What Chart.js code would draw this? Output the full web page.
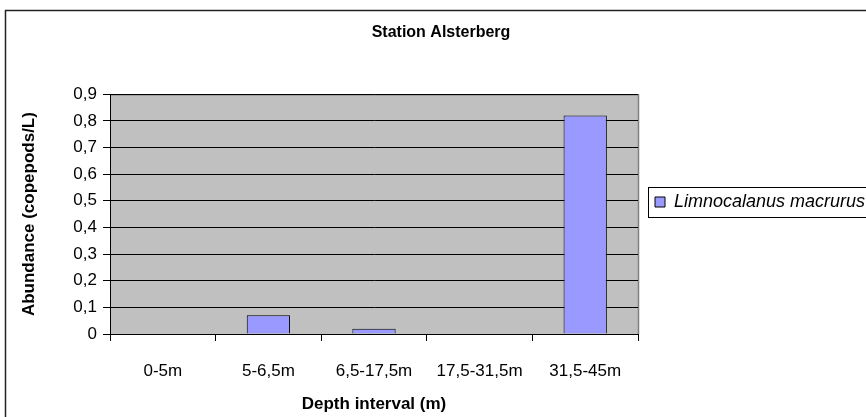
<!DOCTYPE html>
<html>
<head>
<meta charset="utf-8">
<script src="https://cdn.jsdelivr.net/npm/chart.js@4.4.1/dist/chart.umd.min.js"></script>
<style>
  html, body { margin: 0; padding: 0; background: #fff; overflow: hidden; }
  #wrap { position: relative; width: 882px; height: 430px; }
</style>
</head>
<body>
<div id="wrap"><canvas id="myChart"></canvas></div>
<script>
const categories = ['0-5m', '5-6,5m', '6,5-17,5m', '17,5-31,5m', '31,5-45m'];
const abundance = [0, 0.07, 0.02, 0, 0.82];
const seriesName = 'Limnocalanus macrurus';
const yTicks = [0, 0.1, 0.2, 0.3, 0.4, 0.5, 0.6, 0.7, 0.8, 0.9];

const FONT = "'Liberation Sans', Arial, sans-serif";
const LEGEND_MID = 202;
const LEGEND_WIDTH = 244;

// grey plot area, outer chart frame, frame round the legend
const excelLook = {
  id: 'excelLook',
  afterInit(chart) {
    // side boxes are capped at a quarter of the width; the legend needs more
    const lg = chart.legend;
    const fit = lg.fit.bind(lg);
    lg.fit = function () {
      fit();
      this.width = LEGEND_WIDTH;
    };
  },
  afterUpdate(chart) {
    // Excel puts the legend a little above the middle of the plot
    const lg = chart.legend;
    const hb = lg.legendHitBoxes[0];
    if (!hb) return;
    const d = hb.top + hb.height / 2 - LEGEND_MID;
    lg.top -= d;
    lg.bottom -= d;
    hb.top -= d;
  },
  beforeDraw(chart) {
    const { ctx, chartArea: a } = chart;
    ctx.save();
    ctx.fillStyle = '#c0c0c0';
    ctx.fillRect(a.left, a.top, a.right - a.left, a.bottom - a.top);
    ctx.strokeStyle = '#808080';
    ctx.lineWidth = 1.5;
    ctx.beginPath();
    ctx.moveTo(a.left, a.top + 0.5);
    ctx.lineTo(a.right + 0.5, a.top + 0.5);
    ctx.lineTo(a.right + 0.5, a.bottom);
    ctx.stroke();
    ctx.restore();
  },
  afterDraw(chart) {
    const ctx = chart.ctx;
    ctx.save();
    ctx.strokeStyle = '#222';
    ctx.lineWidth = 1.5;
    ctx.strokeRect(5.5, 10.5, chart.width + 20, chart.height + 20);
    const hb = chart.legend.legendHitBoxes[0];
    if (hb) {
      const mid = hb.top + hb.height / 2;
      ctx.lineWidth = 1;
      ctx.strokeStyle = '#000';
      ctx.strokeRect(Math.round(hb.left - 7) + 0.5, Math.round(mid - 15) + 0.5, 300, 30);
    }
    ctx.restore();
  }
};

new Chart(document.getElementById('myChart').getContext('2d'), {
  type: 'bar',
  data: {
    labels: categories,
    datasets: [{
      label: seriesName,
      data: abundance,
      backgroundColor: '#9999ff',
      borderColor: '#000',
      borderWidth: 1,
      barPercentage: 0.41,
      categoryPercentage: 1
    }]
  },
  options: {
    responsive: true,
    maintainAspectRatio: false,
    animation: false,
    layout: { padding: 0 },
    plugins: {
      title: {
        display: true,
        text: 'Station Alsterberg',
        color: '#000',
        font: { family: FONT, size: 16, weight: 'bold' },
        padding: { top: 23, bottom: 52 }
      },
      legend: {
        position: 'right',
        align: 'center',
        labels: {
          color: '#000',
          font: { family: FONT, size: 18, style: 'italic' },
          boxWidth: 10,
          boxHeight: 10,
          padding: 17
        }
      },
      tooltip: { enabled: false }
    },
    scales: {
      x: {
        offset: true,
        afterFit(scale) { scale.height = 96; },
        grid: {
          offset: true,
          drawOnChartArea: false,
          drawTicks: true,
          tickLength: 7,
          color: '#000'
        },
        border: { color: '#000', width: 1 },
        ticks: {
          color: '#000',
          font: { family: FONT, size: 17 },
          padding: 20,
          maxRotation: 0,
          autoSkip: false
        },
        title: {
          display: true,
          text: 'Depth interval (m)',
          color: '#000',
          font: { family: FONT, size: 17, weight: 'bold' },
          padding: { top: 12, bottom: 15 }
        }
      },
      y: {
        min: 0,
        max: 0.9,
        afterFit(scale) { scale.width = 110; },
        afterBuildTicks(scale) { scale.ticks = yTicks.map(v => ({ value: v })); },
        grid: {
          color: '#000',
          drawTicks: true,
          tickLength: 7
        },
        border: { color: '#000', width: 1 },
        ticks: {
          color: '#000',
          font: { family: FONT, size: 17 },
          padding: 6,
          callback: v => v === 0 ? '0' : v.toFixed(1).replace('.', ',')
        },
        title: {
          display: true,
          text: 'Abundance (copepods/L)',
          color: '#000',
          font: { family: FONT, size: 17, weight: 'bold' },
          padding: { top: 19, bottom: 0 }
        }
      }
    }
  },
  plugins: [excelLook]
});
</script>
</body>
</html>
